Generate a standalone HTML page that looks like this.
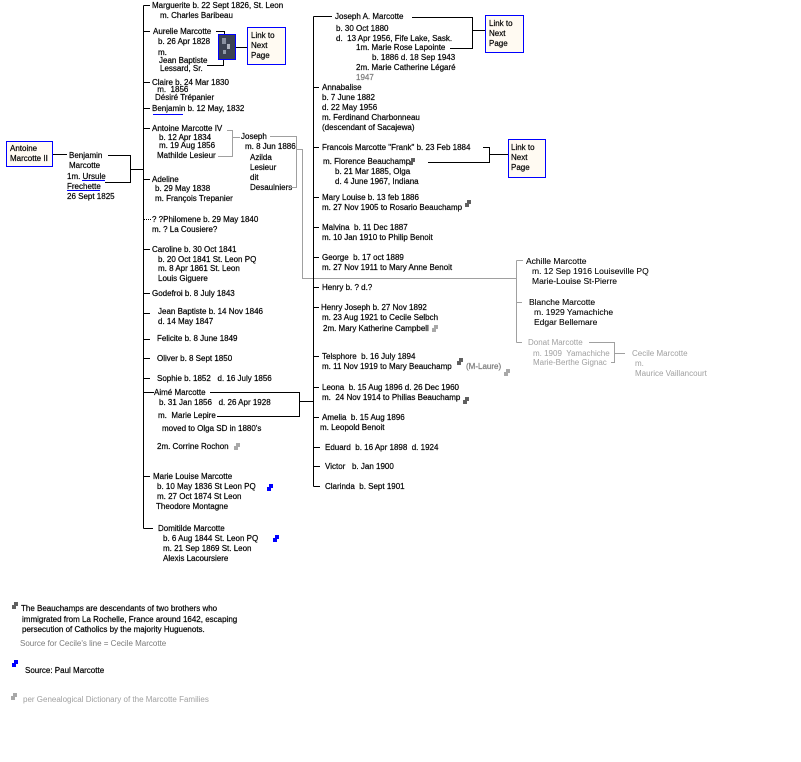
<!DOCTYPE html>
<html><head><meta charset="utf-8"><style>
html,body{margin:0;padding:0;background:#fff;}
svg{display:block;}
text{font-family:"Liberation Sans",sans-serif;font-size:8px;fill:#000;white-space:pre;stroke:#000;stroke-width:0.2px;}
.g{fill:#7a7a7a;stroke:#7a7a7a;}
.lg{fill:#a0a0a0;stroke:none;}
.a{font-size:8.5px;stroke-width:0.1px;}
.l{stroke:#000;stroke-width:1;fill:none;}
.gl{stroke:#a0a0a0;stroke-width:1;fill:none;}
.bl{stroke:#0000ff;stroke-width:1;fill:none;}
.bx{stroke:#0000ff;stroke-width:1;fill:#fffaf2;}
.ph{stroke:#0000ff;stroke-width:1;fill:#3c4252;}
</style></head><body>
<svg width="801" height="762" viewBox="0 0 801 762" xmlns="http://www.w3.org/2000/svg">
<defs>
<path id="ic" d="M2 0h4v4h-4zM0 3h4v4h-4z"/>
</defs>
<rect width="801" height="762" fill="#fff"/>

<!-- Column 1 -->
<rect x="6.5" y="141.5" width="46" height="25" class="bx"/>
<text x="10" y="151">Antoine</text>
<text x="10" y="161">Marcotte II</text>
<path class="l" d="M53 154.5H67"/>
<text x="69" y="158">Benjamin</text>
<text x="69" y="168">Marcotte</text>
<text x="67" y="179">1m. Ursule</text>
<path class="bl" d="M82 180.5H105"/>
<text x="67" y="189">Frechette</text>
<path class="bl" d="M67 190.5H100"/>
<text x="67" y="199">26 Sept 1825</text>
<path class="l" d="M108 155.5H130.5V182.5H105M130.5 169.5H143"/>

<!-- Column 2 vertical -->
<path class="l" d="M143.5 5.5V528.5"/>
<path class="l" d="M143.5 5.5H150M143 31.5H150M143 82.5H150M143 108.5H150M143 128.5H150M143 179.5H150M143 249.5H150M143 293.5H150M143 313.5H150M143 339.5H150M143 358.5H150M143 378.5H150M143 392.5H154M143 476.5H150M143.5 528.5H153"/>
<path d="M144 219.5H151" stroke="#000" stroke-width="1" stroke-dasharray="1,1"/>

<text x="152" y="8">Marguerite b. 22 Sept 1826, St. Leon</text>
<text x="160" y="18">m. Charles Baribeau</text>
<text x="153" y="34">Aurelie Marcotte</text>
<text x="158" y="44">b. 26 Apr 1828</text>
<text x="158" y="55">m.</text>
<text x="159" y="63">Jean Baptiste</text>
<text x="160" y="71">Lessard, Sr.</text>
<path class="l" d="M216 31.5H224.5V34M207 65.5H223.5V60"/>
<rect x="218.5" y="34.5" width="17" height="25" class="ph"/>
<rect x="222" y="38" width="4" height="6" fill="#8a90a0"/>
<rect x="227" y="44" width="3" height="5" fill="#b0b4c0"/>
<rect x="223" y="50" width="3" height="4" fill="#9098a8"/>
<path class="l" d="M236 47.5H247"/>
<rect x="247.5" y="27.5" width="38" height="37" class="bx"/>
<text x="251" y="38">Link to</text>
<text x="251" y="48">Next</text>
<text x="251" y="58">Page</text>

<text x="152" y="85">Claire b. 24 Mar 1830</text>
<text x="155" y="92"> m.  1856</text>
<text x="155" y="100">Désiré Trépanier</text>
<text x="152" y="111">Benjamin b. 12 May, 1832</text>
<path class="bl" d="M153 114.5H183"/>
<text x="152" y="131">Antoine Marcotte IV</text>
<text x="159" y="140">b. 12 Apr 1834</text>
<text x="159" y="148">m. 19 Aug 1856</text>
<text x="157" y="158">Mathilde Lesieur</text>
<path class="gl" d="M227 130.5H232.5V156.5H218M232.5 137.5H240"/>
<text x="241" y="139">Joseph</text>
<text x="245" y="149">m. 8 Jun 1886</text>
<text x="250" y="160">Azilda</text>
<text x="250" y="170">Lesieur</text>
<text x="250" y="180">dit</text>
<text x="250" y="190">Desaulniers</text>
<path class="gl" d="M270 136.5H296.5V187.5H290"/>
<path class="gl" d="M297 149.5H302.5V278.5H517"/>

<text x="152" y="182">Adeline</text>
<text x="155" y="191">b. 29 May 1838</text>
<text x="155" y="201">m. François Trepanier</text>
<text x="152" y="222">? ?Philomene b. 29 May 1840</text>
<text x="152" y="232">m. ? La Cousiere?</text>
<text x="152" y="252">Caroline b. 30 Oct 1841</text>
<text x="158" y="262">b. 20 Oct 1841 St. Leon PQ</text>
<text x="158" y="271">m. 8 Apr 1861 St. Leon</text>
<text x="158" y="281">Louis Giguere</text>
<text x="152" y="296">Godefroi b. 8 July 1843</text>
<text x="158" y="314">Jean Baptiste b. 14 Nov 1846</text>
<text x="158" y="324">d. 14 May 1847</text>
<text x="157" y="341">Felicite b. 8 June 1849</text>
<text x="157" y="361">Oliver b. 8 Sept 1850</text>
<text x="157" y="381">Sophie b. 1852   d. 16 July 1856</text>
<text x="154" y="395">Aimé Marcotte</text>
<text x="159" y="405">b. 31 Jan 1856   d. 26 Apr 1928</text>
<text x="158" y="418">m.  Marie Lepire</text>
<path class="l" d="M210 392.5H299.5V416.5H217M299.5 401.5H313"/>
<text x="162" y="431">moved to Olga SD in 1880's</text>
<text x="157" y="449">2m. Corrine Rochon</text>
<use href="#ic" x="234" y="443" fill="#a8a8a8"/>
<text x="153" y="479">Marie Louise Marcotte</text>
<text x="157" y="489">b. 10 May 1836 St Leon PQ</text>
<use href="#ic" x="267" y="484" fill="#0000ff"/>
<text x="157" y="499">m. 27 Oct 1874 St Leon</text>
<text x="156" y="509">Theodore Montagne</text>
<text x="158" y="531">Domitilde Marcotte</text>
<text x="163" y="541">b. 6 Aug 1844 St. Leon PQ</text>
<use href="#ic" x="273" y="535" fill="#0000ff"/>
<text x="163" y="551">m. 21 Sep 1869 St. Leon</text>
<text x="163" y="561">Alexis Lacoursiere</text>

<!-- Column 3 -->
<path class="l" d="M313.5 16.5V486.5"/>
<path class="l" d="M313.5 16.5H332M313 87.5H319M313 147.5H319M313 197.5H319M313 227.5H319M313 257.5H319M313 287.5H319M313 307.5H319M313 356.5H319M313 387.5H319M313 417.5H319M313 447.5H320M313 466.5H320M313.5 486.5H320"/>

<text x="335" y="19">Joseph A. Marcotte</text>
<text x="336" y="31">b. 30 Oct 1880</text>
<text x="336" y="41">d.  13 Apr 1956, Fife Lake, Sask.</text>
<text x="356" y="50">1m. Marie Rose Lapointe</text>
<text x="372" y="60">b. 1886 d. 18 Sep 1943</text>
<text x="356" y="70">2m. Marie Catherine Légaré</text>
<text x="356" y="80" class="g">1947</text>
<path class="l" d="M412 17.5H472.5V48.5H450M472.5 30.5H485"/>
<rect x="485.5" y="15.5" width="38" height="37" class="bx"/>
<text x="489" y="26">Link to</text>
<text x="489" y="36">Next</text>
<text x="489" y="46">Page</text>

<text x="322" y="90">Annabalise</text>
<text x="322" y="100">b. 7 June 1882</text>
<text x="322" y="110">d. 22 May 1956</text>
<text x="322" y="120">m. Ferdinand Charbonneau</text>
<text x="322" y="130">(descendant of Sacajewa)</text>
<text x="322" y="150">Francois Marcotte "Frank" b. 23 Feb 1884</text>
<text x="323" y="164">m. Florence Beauchamp</text>
<use href="#ic" x="409" y="158" fill="#606060"/>
<text x="335" y="174">b. 21 Mar 1885, Olga</text>
<text x="335" y="184">d. 4 June 1967, Indiana</text>
<path class="l" d="M483 147.5H489.5V162.5H428M489.5 154.5H508"/>
<rect x="508.5" y="139.5" width="37" height="38" class="bx"/>
<text x="511" y="150">Link to</text>
<text x="511" y="160">Next</text>
<text x="511" y="170">Page</text>

<text x="322" y="200">Mary Louise b. 13 feb 1886</text>
<text x="322" y="210">m. 27 Nov 1905 to Rosario Beauchamp</text>
<use href="#ic" x="465" y="200" fill="#606060"/>
<text x="322" y="230">Malvina  b. 11 Dec 1887</text>
<text x="322" y="240">m. 10 Jan 1910 to Philip Benoit</text>
<text x="322" y="260">George  b. 17 oct 1889</text>
<text x="322" y="270">m. 27 Nov 1911 to Mary Anne Benoit</text>
<text x="322" y="290">Henry b. ? d.?</text>
<text x="321" y="310">Henry Joseph b. 27 Nov 1892</text>
<text x="322" y="320">m. 23 Aug 1921 to Cecile Selbch</text>
<text x="323" y="331">2m. Mary Katherine Campbell</text>
<use href="#ic" x="432" y="325" fill="#a8a8a8"/>
<text x="322" y="359">Telsphore  b. 16 July 1894</text>
<text x="322" y="369">m. 11 Nov 1919 to Mary Beauchamp</text>
<use href="#ic" x="457" y="358" fill="#606060"/>
<text x="466" y="369" class="g">(M-Laure)</text>
<use href="#ic" x="504" y="369" fill="#a8a8a8"/>
<text x="322" y="390">Leona  b. 15 Aug 1896 d. 26 Dec 1960</text>
<text x="322" y="400">m.  24 Nov 1914 to Philias Beauchamp</text>
<use href="#ic" x="463" y="397" fill="#606060"/>
<text x="322" y="420">Amelia  b. 15 Aug 1896</text>
<text x="320" y="430">m. Leopold Benoit</text>
<text x="325" y="450">Eduard  b. 16 Apr 1898  d. 1924</text>
<text x="325" y="469">Victor   b. Jan 1900</text>
<text x="325" y="489">Clarinda  b. Sept 1901</text>

<!-- Right group -->
<path class="gl" d="M516.5 260.5V342.5M516.5 260.5H523M516.5 302.5H522M516.5 342.5H522"/>
<text x="526" y="264" class="a">Achille Marcotte</text>
<text x="532" y="274" class="a">m. 12 Sep 1916 Louiseville PQ</text>
<text x="532" y="284" class="a">Marie-Louise St-Pierre</text>
<text x="529" y="305" class="a">Blanche Marcotte</text>
<text x="534" y="315" class="a">m. 1929 Yamachiche</text>
<text x="534" y="325" class="a">Edgar Bellemare</text>
<text x="528" y="345" class="lg">Donat Marcotte</text>
<text x="533" y="356" class="lg">m. 1909  Yamachiche</text>
<text x="533" y="365" class="lg">Marie-Berthe Gignac</text>
<path class="gl" d="M589 342.5H614.5V362.5H611M614.5 353.5H625"/>
<text x="632" y="356" class="lg">Cecile Marcotte</text>
<text x="635" y="366" class="lg">m.</text>
<text x="635" y="376" class="lg">Maurice Vaillancourt</text>

<!-- Footer -->
<use href="#ic" x="12" y="602" fill="#606060"/>
<text x="21" y="611">The Beauchamps are descendants of two brothers who</text>
<text x="22" y="622">immigrated from La Rochelle, France around 1642, escaping</text>
<text x="22" y="632">persecution of Catholics by the majority Huguenots.</text>
<text x="20" y="646" class="g" style="stroke:none">Source for Cecile's line = Cecile Marcotte</text>
<use href="#ic" x="12" y="660" fill="#0000ff"/>
<text x="25" y="673">Source: Paul Marcotte</text>
<use href="#ic" x="11" y="693" fill="#a8a8a8"/>
<text x="23" y="702" class="lg">per Genealogical Dictionary of the Marcotte Families</text>
</svg>
</body></html>
